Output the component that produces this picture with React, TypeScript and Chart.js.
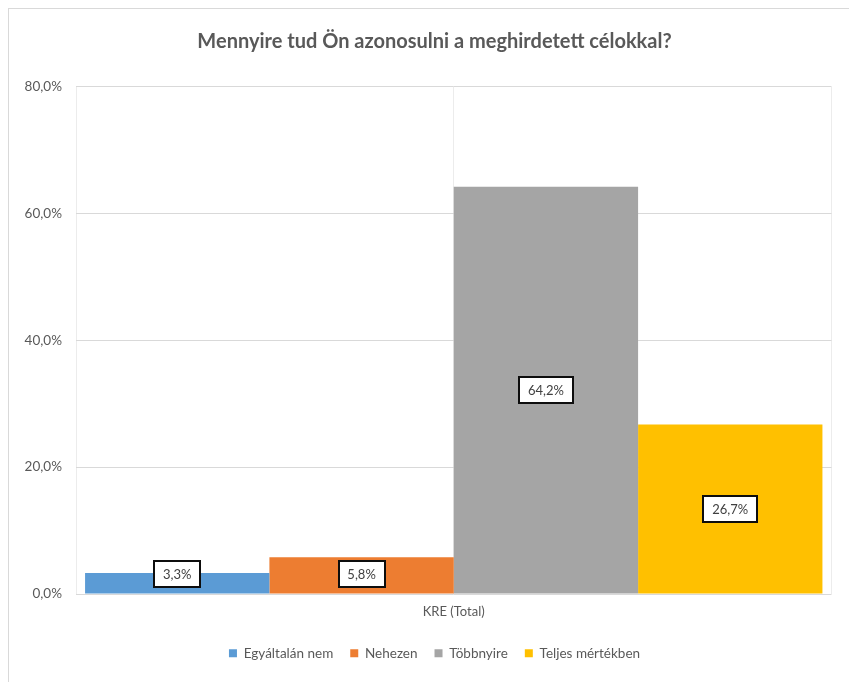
import React, { useEffect, useRef } from 'react';
import { Chart, registerables } from 'chart.js';

Chart.register(...registerables);

const categories = ['KRE (Total)'];
const seriesNames = ['Egyáltalán nem', 'Nehezen', 'Többnyire', 'Teljes mértékben'];
const seriesValues = [3.3, 5.8, 64.2, 26.7];
const seriesColors = ['#5B9BD5', '#ED7D31', '#A5A5A5', '#FFC000'];
const yMin = 0;
const yMax = 80;
const yStep = 20;
const titleText = 'Mennyire tud Ön azonosulni a meghirdetett célokkal?';
const vGridSlots = ['', '', ''];

const FONT = 'Lato, "Open Sans", "Liberation Sans", sans-serif';
const fmt = (v: number) => v.toFixed(1).replace('.', ',') + '%';

const boxLabelPlugin = {
  id: 'boxLabels',
  afterDatasetsDraw(chart: any) {
    const { ctx, chartArea } = chart;
    ctx.save();
    ctx.font = `13px ${FONT}`;
    ctx.textAlign = 'center';
    ctx.textBaseline = 'middle';
    chart.data.datasets.forEach((ds: any, i: number) => {
      const meta = chart.getDatasetMeta(i);
      meta.data.forEach((bar: any, j: number) => {
        const v = ds.data[j] as number;
        const text = fmt(v);
        const { x, y, base } = bar.getProps(['x', 'y', 'base'], true);
        const w = Math.round(ctx.measureText(text).width + 18);
        const h = 26;
        let cy = (y + base) / 2;
        cy = Math.min(cy, chartArea.bottom - 7 - h / 2);
        const left = Math.round(x - w / 2);
        const top = Math.round(cy - h / 2);
        ctx.fillStyle = '#ffffff';
        ctx.fillRect(left, top, w, h);
        ctx.lineWidth = 2;
        ctx.strokeStyle = '#0d0d0d';
        ctx.strokeRect(left, top, w, h);
        ctx.fillStyle = '#404040';
        ctx.fillText(text, x, cy + 1);
      });
    });
    ctx.restore();
  },
};

export default function App() {
  const canvasRef = useRef<HTMLCanvasElement | null>(null);

  useEffect(() => {
    if (!canvasRef.current) return;
    const chart = new Chart(canvasRef.current, {
      type: 'bar',
      data: {
        labels: categories,
        datasets: seriesNames.map((name, i) => ({
          label: name,
          data: [seriesValues[i]],
          backgroundColor: seriesColors[i],
          borderWidth: 0,
          xAxisID: 'x',
          yAxisID: 'y',
          categoryPercentage: 0.976,
          barPercentage: 1.0,
        })),
      },
      options: {
        responsive: false,
        animation: false,
        devicePixelRatio: 1,
        layout: { padding: { left: 0, right: 0, top: 0, bottom: 37 } },
        plugins: {
          title: {
            display: true,
            text: titleText,
            color: '#595959',
            font: { family: FONT, size: 20, weight: 'bold', lineHeight: 1.2 },
            padding: { top: 21, bottom: 32.5 },
          },
          legend: {
            display: true,
            position: 'bottom',
            labels: {
              boxWidth: 8,
              boxHeight: 8,
              padding: 17,
              color: '#595959',
              font: { family: FONT, size: 13.5 },
            },
          },
          tooltip: { enabled: false },
        },
        scales: {
          x: {
            type: 'category',
            position: 'bottom',
            grid: { display: false, drawTicks: false },
            border: { display: false },
            ticks: { color: '#595959', font: { family: FONT, size: 13 }, padding: 10 },
            afterFit: (scale: any) => {
              scale.height = 35.5;
            },
          },
          x2: {
            type: 'category',
            position: 'top',
            labels: vGridSlots,
            offset: false,
            grid: { color: '#ececec', drawTicks: false, lineWidth: 1, offset: false },
            border: { display: false },
            ticks: { display: false },
            afterFit: (scale: any) => {
              scale.height = 0;
            },
          },
          y: {
            type: 'linear',
            min: yMin,
            max: yMax,
            grid: { color: '#d9d9d9', drawTicks: false, lineWidth: 1 },
            border: { display: false },
            ticks: {
              stepSize: yStep,
              color: '#595959',
              font: { family: FONT, size: 13.5 },
              padding: 14,
              callback: (v: any) => fmt(Number(v)),
            },
            afterFit: (scale: any) => {
              scale.width = 67;
            },
          },
          y2: {
            type: 'linear',
            position: 'right',
            grid: { display: false, drawTicks: false },
            border: { display: false },
            ticks: { display: false },
            afterFit: (scale: any) => {
              scale.width = 28.5;
            },
          },
        },
      },
      plugins: [boxLabelPlugin],
    } as any);
    return () => chart.destroy();
  }, []);

  return (
    <div style={{ position: 'fixed', left: 0, top: 0, width: 849, height: 682, overflow: 'hidden', background: '#fff' }}>
      <div
        style={{
          position: 'absolute',
          left: 8,
          top: 8,
          width: 853,
          height: 700,
          border: '1px solid #d9d9d9',
          boxSizing: 'border-box',
          background: '#fff',
        }}
      >
        <canvas ref={canvasRef} width={851} height={698} style={{ display: 'block' }} />
      </div>
    </div>
  );
}
